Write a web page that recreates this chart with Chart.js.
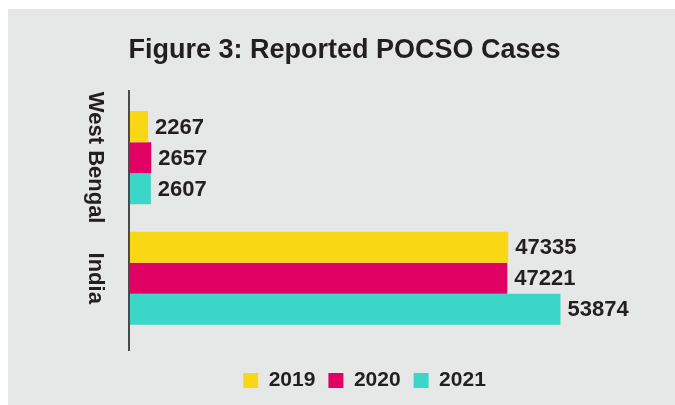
<!DOCTYPE html>
<html>
<head>
<meta charset="utf-8">
<script src="https://cdn.jsdelivr.net/npm/chart.js@4/dist/chart.umd.min.js"></script>
<style>
  html, body { margin: 0; padding: 0; background: #ffffff; }
  #panel {
    position: absolute;
    left: 8px;
    top: 9px;
    width: 667px;
    height: 396px;
    background: #e6e7e7;
  }
  canvas { display: block; }
</style>
</head>
<body>
<div id="panel">
  <canvas id="chart" width="667" height="396"></canvas>
</div>
<script>
// Chart data
const categories = ['West Bengal', 'India'];
const years = ['2019', '2020', '2021'];
const cases2019 = [2267, 47335];
const cases2020 = [2657, 47221];
const cases2021 = [2607, 53874];

const colors = ['#f9d714', '#e10064', '#3bd6c7'];
const textColor = '#231f20';
const fontFamily = '"Liberation Sans", Arial, sans-serif';

Chart.defaults.font.family = fontFamily;
Chart.defaults.color = textColor;

// Numbers at the end of each bar
const barValueLabels = {
    id: 'barValueLabels',
    afterDatasetsDraw(chart) {
        const ctx = chart.ctx;
        ctx.save();
        ctx.font = 'bold 22px ' + fontFamily;
        ctx.fillStyle = textColor;
        ctx.textAlign = 'left';
        ctx.textBaseline = 'middle';
        chart.data.datasets.forEach((ds, i) => {
            const meta = chart.getDatasetMeta(i);
            meta.data.forEach((bar, j) => {
                ctx.fillText(String(ds.data[j]), bar.x + 7, bar.y + 1);
            });
        });
        ctx.restore();
    }
};

// Vertical axis line and rotated category names
const categoryAxis = {
    id: 'categoryAxis',
    afterDraw(chart) {
        const ctx = chart.ctx;
        const area = chart.chartArea;
        const yScale = chart.scales.y;
        ctx.save();
        ctx.strokeStyle = '#4a4a4a';
        ctx.lineWidth = 2;
        ctx.beginPath();
        ctx.moveTo(area.left - 1, area.top - 7.5);
        ctx.lineTo(area.left - 1, area.bottom + 12.5);
        ctx.stroke();

        ctx.font = 'bold 22px ' + fontFamily;
        ctx.fillStyle = textColor;
        ctx.textAlign = 'center';
        ctx.textBaseline = 'middle';
        categories.forEach((name, i) => {
            const y = yScale.getPixelForValue(i);
            ctx.save();
            ctx.translate(area.left - 35, y);
            ctx.rotate(Math.PI / 2);
            ctx.fillText(name, 0, 0);
            ctx.restore();
        });
        ctx.restore();
    }
};

new Chart(document.getElementById('chart'), {
    type: 'bar',
    data: {
        labels: categories,
        datasets: [
            { label: years[0], data: cases2019, backgroundColor: colors[0] },
            { label: years[1], data: cases2020, backgroundColor: colors[1] },
            { label: years[2], data: cases2021, backgroundColor: colors[2] }
        ]
    },
    options: {
        indexAxis: 'y',
        responsive: false,
        animation: false,
        layout: {
            padding: { top: 0, left: 82, right: 76, bottom: 4 }
        },
        datasets: {
            bar: {
                barPercentage: 1,
                categoryPercentage: 0.773,
                borderWidth: 0
            }
        },
        scales: {
            x: {
                min: 0,
                max: 58700,
                ticks: { display: false },
                grid: { display: false },
                border: { display: false },
                afterFit: s => { s.height = 18.5; }
            },
            y: {
                ticks: { display: false },
                grid: { display: false },
                border: { display: false },
                afterFit: s => { s.width = 40; }
            }
        },
        plugins: {
            title: {
                display: true,
                text: 'Figure 3: Reported POCSO Cases',
                color: textColor,
                font: { size: 27, weight: 'bold' },
                padding: { top: 25, bottom: 31 }
            },
            legend: {
                position: 'bottom',
                fullSize: false,
                labels: {
                    boxWidth: 15,
                    boxHeight: 15,
                    padding: 13,
                    color: textColor,
                    font: { size: 21, weight: 'bold' }
                }
            },
            tooltip: { enabled: false }
        }
    },
    plugins: [barValueLabels, categoryAxis]
});
</script>
</body>
</html>
